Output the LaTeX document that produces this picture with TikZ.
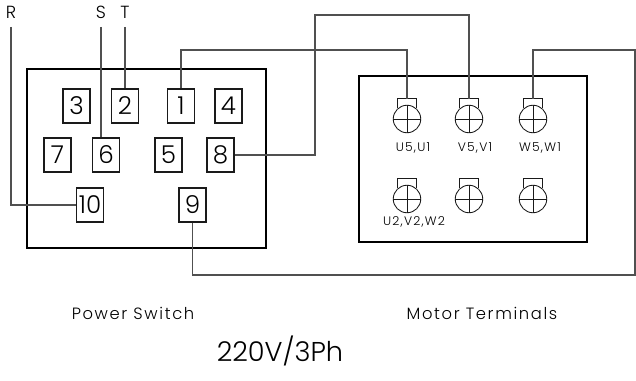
\documentclass[tikz,border=0pt]{standalone}
\usepackage{fontspec}
\setmainfont{Poppins Light}
\newfontfamily\cadfont[LetterSpace=10]{Poppins Light}
\usetikzlibrary{positioning}
\definecolor{wire}{HTML}{505050}
\definecolor{ink}{HTML}{1A1A1A}

\begin{document}
\begin{tikzpicture}[
  x=0.02cm, y=-0.02cm,
  pin/.style={draw=ink, line width=0.6pt, minimum width=0.54cm, minimum height=0.68cm,
    inner sep=0pt, font=\fontsize{14}{14}\selectfont},
  term/.style={circle, draw=ink, line width=0.5pt, minimum size=0.55cm, inner sep=0pt},
  housing/.style={draw=black, line width=1.7pt},
  wire/.style={draw=wire, line width=0.6pt},
  phase/.style={font=\cadfont\fontsize{10}{10}\selectfont, inner sep=4.5pt},
  tlabel/.style={font=\cadfont\fontsize{7}{7}\selectfont},
  caption/.style={font=\cadfont\fontsize{9.3}{9.3}\selectfont},
]
\useasboundingbox (0,0) rectangle (636,381);

% Housings
\draw[housing] (27,69) rectangle (266,248);
\draw[housing] (359,76) rectangle (587,242);

% Power switch pins
\node[pin] (sw3) at (76.5,106) {3};
\node[pin] (sw2) at (125,106) {2};
\node[pin] (sw1) at (181,106) {1};
\node[pin] (sw4) at (228.5,106) {4};
\node[pin] (sw7) at (57.5,155) {7};
\node[pin] (sw6) at (106,155) {6};
\node[pin] (sw5) at (168.5,155) {5};
\node[pin] (sw8) at (220.5,155) {8};
\node[pin] (sw10) at (90,205) {10};
\node[pin] (sw9) at (192.5,205) {9};

% Motor terminals: circle, cross and tab
\foreach \name/\cx/\cy in {U1/407/119, V1/469/119, W1/533/119, U2/407/199, V2/469/199, W2/533/199} {
  \node[term] (\name) at (\cx,\cy) {};
  \draw[ink, line width=0.5pt] (\name.west) -- (\name.east) (\name.north) -- (\name.south);
  \draw[ink, line width=0.5pt] (\name.132) -- ++(0,-10) -| (\name.48);
  \coordinate (\name tab) at (\cx,\cy-20);
}

\node[tlabel] (lU1) at (413,148) {U5,U1};
\node[tlabel] (lV1) at (475,148) {V5,V1};
\node[tlabel] (lW1) at (540,148) {W5,W1};
\node[tlabel] (lU2) at (414,222) {U2,V2,W2};

% Supply phases
\node[phase, above] (R) at (11,27) {R};
\node[phase, above] (S) at (101,27) {S};
\node[phase, above] (T) at (125,27) {T};

% Wiring
\draw[wire] (R.south) |- (sw10.west);
\draw[wire] (S.south) -- (S.south |- sw6.north);
\draw[wire] (T.south) -- (sw2.north);
\draw[wire] (sw1.north) -- (sw1.north |- 0,50) -| (U1tab);
\draw[wire] (sw8.east) -| (315,15) -| (V1tab);
\draw[wire] (sw9.south) |- (635,275) -- (635,50) -| (W1tab);

% Captions
\node[caption] (swcap) at (133,313) {Power Switch};
\node[caption] (motcap) at (482,313) {Motor Terminals};
\node[font=\fontsize{15.5}{15.5}\selectfont] (supply) at (280,351) {220V/3Ph};

\end{tikzpicture}
\end{document}
